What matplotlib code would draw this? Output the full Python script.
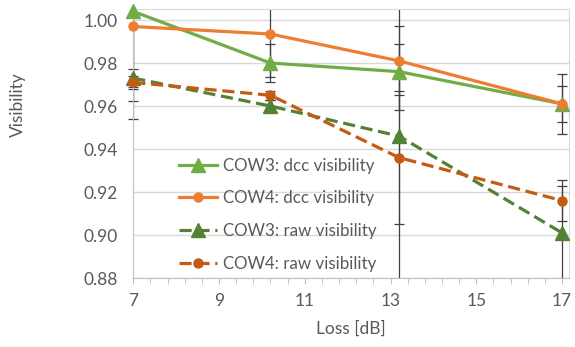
import matplotlib
matplotlib.use("Agg")
import matplotlib.pyplot as plt
from matplotlib.ticker import FixedLocator, FormatStrFormatter, MultipleLocator
from matplotlib.transforms import Bbox, TransformedBbox

plt.rcParams['font.family'] = ['Lato', 'DejaVu Sans']

# loss values and visibilities for each series
loss = [7.0, 10.2, 13.2, 17.0]
cow3_dcc = [1.004, 0.980, 0.976, 0.961]
cow4_dcc = [0.997, 0.9935, 0.981, 0.961]
cow3_raw = [0.973, 0.960, 0.946, 0.901]
cow4_raw = [0.971, 0.965, 0.936, 0.916]

# error bars: [lower, upper]
cow3_dcc_err = [[0.050, 0.0087, 0.0179, 0.014], [0.050, 0.0087, 0.0213, 0.014]]
cow4_dcc_err = [[0.0345, 0.020, 0.016, 0.0085], [0.0345, 0.020, 0.0077, 0.0085]]
cow3_raw_err = [[0.004, 0.003, 0.070, 0.0217], [0.004, 0.003, 0.070, 0.0217]]
cow4_raw_err = [[0.003, 0.002, 0.031, 0.0096], [0.003, 0.002, 0.031, 0.0096]]

labels = ["COW3: dcc visibility", "COW4: dcc visibility",
          "COW3: raw visibility", "COW4: raw visibility"]
x_ticks = [7, 9, 11, 13, 15, 17]

text_gray = "#595959"
axis_gray = "#BFBFBF"
grid_gray = "#D9D9D9"
err_gray = "#404040"
fs = 12.5

fig = plt.figure(figsize=(5.75, 3.47), dpi=100)
ax = fig.add_axes([0.2318, 0.1988, 0.7584, 0.7744])

series = [
    (cow3_dcc, cow3_dcc_err, "#70AD47", "^", 10.5, "-"),
    (cow4_dcc, cow4_dcc_err, "#ED7D31", "o", 6.5, "-"),
    (cow3_raw, cow3_raw_err, "#548235", "^", 10.5, "--"),
    (cow4_raw, cow4_raw_err, "#C55A11", "o", 6.5, "--"),
]

# caps may stick out sideways past the plot edges, but not above/below
cap_box = TransformedBbox(Bbox([[-0.05, 0], [1.05, 1]]), ax.transAxes)

for vals, err, col, mk, ms, ls in series:
    eb = ax.errorbar(loss, vals, yerr=err, fmt="none", ecolor=err_gray,
                     elinewidth=0.9, capsize=3.5, capthick=0.9, zorder=2)
    for cap in eb[1]:
        cap.set_clip_box(cap_box)

handles = []
for (vals, err, col, mk, ms, ls), lab in zip(series, labels):
    line, = ax.plot(loss, vals, color=col, lw=2.3, marker=mk, ms=ms,
                    label=lab, zorder=3, clip_on=False)
    if ls == "--":
        line.set_dashes((3.8, 1.8))
    handles.append(line)

ax.set_xlim(7, 17.17)
ax.set_ylim(0.88, 1.005)
ax.xaxis.set_major_locator(FixedLocator(x_ticks))
ax.xaxis.set_minor_locator(FixedLocator([7 + 0.4 * i for i in range(26)]))
ax.yaxis.set_major_locator(MultipleLocator(0.02))
ax.yaxis.set_major_formatter(FormatStrFormatter("%.2f"))

ax.grid(axis="y", color=grid_gray, lw=1.0, zorder=0)
ax.set_axisbelow(True)

for side in ["top", "right"]:
    ax.spines[side].set_color(grid_gray)
for side in ["left", "bottom"]:
    ax.spines[side].set_color(axis_gray)

ax.tick_params(axis="x", which="both", direction="out", length=4,
               color=axis_gray, labelcolor=text_gray, labelsize=fs, pad=7)
ax.tick_params(axis="y", length=0, labelcolor=text_gray, labelsize=fs, pad=11)

ax.set_xlabel("Loss [dB]", color=text_gray, fontsize=fs, labelpad=8)
ax.set_ylabel("Visibility", color=text_gray, fontsize=fs)
ax.yaxis.set_label_coords(-0.245, 0.645)

ax.legend(handles=handles, loc="upper left", bbox_to_anchor=(0.09, 0.473),
          frameon=False, fontsize=12.2, labelcolor=text_gray,
          handlelength=2.2, handletextpad=0.4, labelspacing=0.98,
          borderaxespad=0)

fig.savefig("out.png", dpi=100)
